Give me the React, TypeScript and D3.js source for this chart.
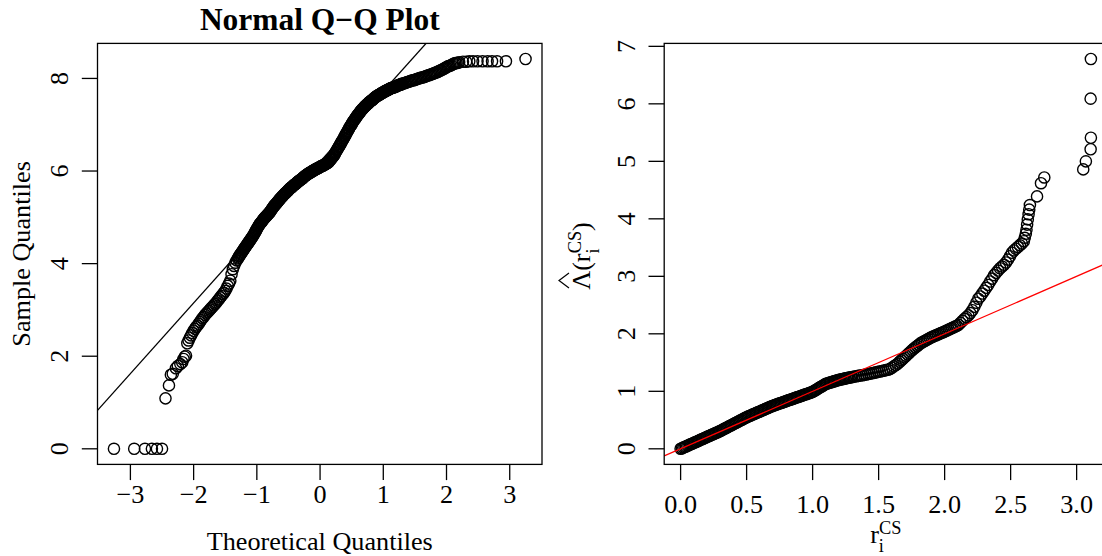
import React from "react";
import * as d3 from "d3";

type Pt = [number, number];

// ---------- Left panel: Normal Q-Q plot (theoretical quantile, sample quantile) ----------
const qqLowerTail: Pt[] = [
  [-3.26, 0], [-2.94, 0], [-2.77, 0], [-2.66, 0], [-2.58, 0], [-2.5, 0],
  [-2.445, 1.09], [-2.39, 1.37], [-2.36, 1.6], [-2.33, 1.62], [-2.28, 1.74], [-2.25, 1.79],
  [-2.21, 1.83], [-2.18, 1.87], [-2.16, 1.94], [-2.14, 1.99], [-2.12, 2.01], [-2.1, 2.28],
  [-2.08, 2.34], [-2.06, 2.4], [-2.04, 2.45], [-2.02, 2.5],
];

const qqRisingBand: Pt[] = [
  [-2.0, 2.55], [-1.98, 2.59], [-1.96, 2.63], [-1.94, 2.66], [-1.92, 2.7], [-1.9, 2.74],
  [-1.88, 2.78], [-1.86, 2.82], [-1.84, 2.85], [-1.82, 2.89], [-1.8, 2.92], [-1.78, 2.95],
  [-1.76, 2.98], [-1.74, 3.01], [-1.72, 3.04], [-1.7, 3.07], [-1.68, 3.1], [-1.66, 3.13],
  [-1.64, 3.16], [-1.62, 3.2], [-1.6, 3.23], [-1.58, 3.27], [-1.56, 3.3], [-1.54, 3.34],
  [-1.52, 3.37], [-1.5, 3.41], [-1.48, 3.46], [-1.46, 3.52], [-1.44, 3.57], [-1.42, 3.63],
  [-1.4, 3.77], [-1.38, 3.88], [-1.36, 3.95], [-1.34, 4.02], [-1.32, 4.07],
];

const qqCentralBand: Pt[] = [
  [-1.3, 4.11], [-1.29, 4.13], [-1.28, 4.16], [-1.27, 4.18], [-1.26, 4.2], [-1.25, 4.22],
  [-1.24, 4.24], [-1.23, 4.26], [-1.22, 4.28], [-1.21, 4.3], [-1.2, 4.32], [-1.19, 4.34],
  [-1.18, 4.36], [-1.17, 4.38], [-1.16, 4.4], [-1.15, 4.42], [-1.14, 4.44], [-1.13, 4.46],
  [-1.12, 4.48], [-1.11, 4.5], [-1.1, 4.52], [-1.09, 4.54], [-1.08, 4.56], [-1.07, 4.58],
  [-1.06, 4.6], [-1.05, 4.62], [-1.04, 4.65], [-1.03, 4.67], [-1.02, 4.7], [-1.01, 4.72],
  [-1.0, 4.75], [-0.99, 4.77], [-0.98, 4.8], [-0.97, 4.82], [-0.96, 4.84], [-0.95, 4.86],
  [-0.94, 4.88], [-0.93, 4.89], [-0.92, 4.91], [-0.91, 4.93], [-0.9, 4.95], [-0.89, 4.97],
  [-0.88, 4.98], [-0.87, 5.0], [-0.86, 5.01], [-0.85, 5.03], [-0.84, 5.04], [-0.83, 5.06],
  [-0.82, 5.07], [-0.81, 5.09], [-0.8, 5.1], [-0.79, 5.12], [-0.78, 5.14], [-0.77, 5.16],
  [-0.76, 5.18], [-0.75, 5.2], [-0.74, 5.22], [-0.73, 5.24], [-0.72, 5.26], [-0.71, 5.27],
  [-0.7, 5.29], [-0.69, 5.3], [-0.68, 5.32], [-0.67, 5.34], [-0.66, 5.35], [-0.65, 5.37],
  [-0.64, 5.39], [-0.63, 5.4], [-0.62, 5.42], [-0.61, 5.43], [-0.6, 5.45], [-0.59, 5.46],
  [-0.58, 5.48], [-0.57, 5.49], [-0.56, 5.51], [-0.55, 5.52], [-0.54, 5.53], [-0.53, 5.55],
  [-0.52, 5.56], [-0.51, 5.57], [-0.5, 5.59], [-0.49, 5.6], [-0.48, 5.62], [-0.47, 5.63],
  [-0.46, 5.64], [-0.45, 5.65], [-0.44, 5.66], [-0.43, 5.68], [-0.42, 5.69], [-0.41, 5.7],
  [-0.4, 5.71], [-0.39, 5.72], [-0.38, 5.73], [-0.37, 5.74], [-0.36, 5.76], [-0.35, 5.77],
  [-0.34, 5.78], [-0.33, 5.79], [-0.32, 5.8], [-0.31, 5.81], [-0.3, 5.82], [-0.29, 5.83],
  [-0.28, 5.84], [-0.27, 5.85], [-0.26, 5.87], [-0.25, 5.88], [-0.24, 5.89], [-0.23, 5.9],
  [-0.22, 5.91], [-0.21, 5.92], [-0.2, 5.93], [-0.19, 5.94], [-0.18, 5.95], [-0.17, 5.96],
  [-0.16, 5.96], [-0.15, 5.97], [-0.14, 5.98], [-0.13, 5.99], [-0.12, 6.0], [-0.11, 6.01],
  [-0.1, 6.01], [-0.09, 6.02], [-0.08, 6.03], [-0.07, 6.04], [-0.06, 6.05], [-0.05, 6.05],
  [-0.04, 6.06], [-0.03, 6.07], [-0.02, 6.07], [-0.01, 6.08], [0.0, 6.09], [0.01, 6.1],
  [0.02, 6.1], [0.03, 6.11], [0.04, 6.12], [0.05, 6.12], [0.06, 6.13], [0.07, 6.14],
  [0.08, 6.15], [0.09, 6.15], [0.1, 6.16], [0.11, 6.17], [0.12, 6.18], [0.13, 6.19],
  [0.14, 6.2], [0.15, 6.22], [0.16, 6.24], [0.17, 6.25], [0.18, 6.27], [0.19, 6.29],
  [0.2, 6.31], [0.21, 6.32], [0.22, 6.34], [0.23, 6.36], [0.24, 6.39], [0.25, 6.41],
  [0.26, 6.44], [0.27, 6.46], [0.28, 6.48], [0.29, 6.51], [0.3, 6.53], [0.31, 6.55],
  [0.32, 6.58], [0.33, 6.6], [0.34, 6.63], [0.35, 6.65], [0.36, 6.67], [0.37, 6.7],
  [0.38, 6.72], [0.39, 6.75], [0.4, 6.77], [0.41, 6.8], [0.42, 6.82], [0.43, 6.85],
  [0.44, 6.87], [0.45, 6.9], [0.46, 6.92], [0.47, 6.95], [0.48, 6.97], [0.49, 6.99],
  [0.5, 7.01], [0.51, 7.04], [0.52, 7.06], [0.53, 7.08], [0.54, 7.1], [0.55, 7.12],
  [0.56, 7.14], [0.57, 7.16], [0.58, 7.18], [0.59, 7.2], [0.6, 7.22], [0.61, 7.23],
  [0.62, 7.25], [0.63, 7.27], [0.64, 7.29], [0.65, 7.31], [0.66, 7.32], [0.67, 7.34],
  [0.68, 7.35], [0.69, 7.37], [0.7, 7.38], [0.71, 7.4], [0.72, 7.41], [0.73, 7.42],
  [0.74, 7.44], [0.75, 7.45], [0.76, 7.46], [0.77, 7.47], [0.78, 7.49], [0.79, 7.5],
  [0.8, 7.51], [0.81, 7.52], [0.82, 7.53], [0.83, 7.54], [0.84, 7.55], [0.85, 7.57],
  [0.86, 7.58], [0.87, 7.59], [0.88, 7.6], [0.89, 7.61], [0.9, 7.62], [0.91, 7.63],
  [0.92, 7.64], [0.93, 7.64], [0.94, 7.65], [0.95, 7.66], [0.96, 7.67], [0.97, 7.68],
  [0.98, 7.69], [0.99, 7.69], [1.0, 7.7], [1.01, 7.71], [1.02, 7.72], [1.03, 7.72],
  [1.04, 7.73], [1.05, 7.74], [1.06, 7.75], [1.07, 7.75], [1.08, 7.76], [1.09, 7.77],
  [1.1, 7.77], [1.11, 7.78], [1.12, 7.79], [1.13, 7.79], [1.14, 7.8], [1.15, 7.8],
  [1.16, 7.81], [1.17, 7.81], [1.18, 7.82], [1.19, 7.82], [1.2, 7.83], [1.21, 7.83],
  [1.22, 7.84], [1.23, 7.85], [1.24, 7.85], [1.25, 7.86], [1.26, 7.86], [1.27, 7.87],
  [1.28, 7.87], [1.29, 7.88],
];

const qqUpperBand: Pt[] = [
  [1.3, 7.89], [1.32, 7.89], [1.34, 7.9], [1.36, 7.91], [1.38, 7.92], [1.4, 7.93],
  [1.42, 7.94], [1.44, 7.95], [1.46, 7.96], [1.48, 7.96], [1.5, 7.97], [1.52, 7.98],
  [1.54, 7.99], [1.56, 8.0], [1.58, 8.01], [1.6, 8.02], [1.62, 8.02], [1.64, 8.03],
  [1.66, 8.04], [1.68, 8.05], [1.7, 8.06], [1.72, 8.07], [1.74, 8.08], [1.76, 8.09],
  [1.78, 8.1], [1.8, 8.11], [1.82, 8.12], [1.84, 8.13], [1.86, 8.14], [1.88, 8.16],
  [1.9, 8.17], [1.92, 8.18], [1.94, 8.2], [1.96, 8.21], [1.98, 8.23], [2.0, 8.24],
  [2.02, 8.26], [2.04, 8.27], [2.06, 8.28], [2.08, 8.29], [2.1, 8.31], [2.12, 8.32],
  [2.14, 8.33], [2.16, 8.33], [2.18, 8.34], [2.2, 8.35],
];

const qqUpperTail: Pt[] = [
  [2.26, 8.36], [2.31, 8.36], [2.36, 8.37], [2.42, 8.37], [2.49, 8.37], [2.57, 8.37],
  [2.65, 8.37], [2.72, 8.37], [2.8, 8.37], [2.94, 8.37], [3.25, 8.42],
];

// Reference line through the quartiles
const qqLineIntercept = 6.2;
const qqLineSlope = 1.525;

const qqXTicks = [-3, -2, -1, 0, 1, 2, 3];
const qqYTicks = [0, 2, 4, 6, 8];

// ---------- Right panel: Cox-Snell residuals vs. estimated cumulative hazard ----------
const csLowBand: Pt[] = [
  [0.0, 0.0], [0.01, 0.01], [0.02, 0.021], [0.03, 0.031], [0.04, 0.041], [0.05, 0.052],
  [0.06, 0.062], [0.07, 0.072], [0.08, 0.083], [0.09, 0.093], [0.1, 0.103], [0.11, 0.114],
  [0.12, 0.124], [0.13, 0.134], [0.14, 0.145], [0.15, 0.155], [0.16, 0.165], [0.17, 0.176],
  [0.18, 0.186], [0.19, 0.196], [0.2, 0.207], [0.21, 0.217], [0.22, 0.227], [0.23, 0.238],
  [0.24, 0.248], [0.25, 0.258], [0.26, 0.269], [0.27, 0.279], [0.28, 0.289], [0.29, 0.3],
  [0.3, 0.31], [0.31, 0.322], [0.32, 0.334], [0.33, 0.346], [0.34, 0.358], [0.35, 0.37],
  [0.36, 0.382], [0.37, 0.394], [0.38, 0.406], [0.39, 0.418], [0.4, 0.43], [0.41, 0.442],
  [0.42, 0.454], [0.43, 0.466], [0.44, 0.478], [0.45, 0.49], [0.46, 0.502], [0.47, 0.514],
  [0.48, 0.526], [0.49, 0.538], [0.5, 0.55], [0.51, 0.56], [0.52, 0.57], [0.53, 0.58],
  [0.54, 0.59], [0.55, 0.6], [0.56, 0.61], [0.57, 0.62], [0.58, 0.63], [0.59, 0.64],
  [0.6, 0.65], [0.61, 0.66], [0.62, 0.67], [0.63, 0.68], [0.64, 0.69], [0.65, 0.7],
  [0.66, 0.71], [0.67, 0.72], [0.68, 0.73], [0.69, 0.74], [0.7, 0.75], [0.71, 0.758],
  [0.72, 0.766], [0.73, 0.774], [0.74, 0.782], [0.75, 0.79], [0.76, 0.798], [0.77, 0.806],
  [0.78, 0.814], [0.79, 0.822], [0.8, 0.83], [0.81, 0.838], [0.82, 0.846], [0.83, 0.854],
  [0.84, 0.862], [0.85, 0.87], [0.86, 0.878], [0.87, 0.886], [0.88, 0.894], [0.89, 0.902],
  [0.9, 0.91], [0.91, 0.918], [0.92, 0.926], [0.93, 0.934], [0.94, 0.942], [0.95, 0.95],
  [0.96, 0.958], [0.97, 0.966], [0.98, 0.974], [0.99, 0.982], [1.0, 0.99], [1.01, 1.004],
  [1.02, 1.018], [1.03, 1.032], [1.04, 1.046], [1.05, 1.06], [1.06, 1.074], [1.07, 1.088],
  [1.08, 1.102], [1.09, 1.116], [1.1, 1.13], [1.11, 1.137], [1.12, 1.144], [1.13, 1.151],
  [1.14, 1.158], [1.15, 1.165], [1.16, 1.172], [1.17, 1.179], [1.18, 1.186], [1.19, 1.193],
  [1.2, 1.2], [1.21, 1.205], [1.22, 1.21], [1.23, 1.215], [1.24, 1.22], [1.25, 1.225],
  [1.26, 1.23], [1.27, 1.235], [1.28, 1.24], [1.29, 1.245], [1.3, 1.25],
];

const csMidBand: Pt[] = [
  [1.315, 1.256], [1.33, 1.262], [1.345, 1.268], [1.36, 1.274], [1.375, 1.28], [1.39, 1.286],
  [1.405, 1.293], [1.42, 1.3], [1.435, 1.308], [1.45, 1.315], [1.465, 1.323], [1.48, 1.33],
  [1.495, 1.338], [1.51, 1.345], [1.525, 1.353], [1.54, 1.36], [1.555, 1.368], [1.57, 1.375],
  [1.585, 1.388], [1.6, 1.41], [1.615, 1.433], [1.63, 1.455], [1.645, 1.481], [1.66, 1.513],
];

const csKneeBand: Pt[] = [
  [1.672, 1.539], [1.684, 1.565], [1.696, 1.591], [1.708, 1.617], [1.72, 1.643], [1.732, 1.669],
  [1.744, 1.695], [1.756, 1.721], [1.768, 1.745], [1.78, 1.767], [1.792, 1.789], [1.804, 1.811],
  [1.816, 1.833], [1.828, 1.85], [1.84, 1.865], [1.852, 1.88], [1.864, 1.895], [1.876, 1.91],
  [1.888, 1.925], [1.9, 1.94], [1.912, 1.952], [1.924, 1.964], [1.936, 1.976], [1.948, 1.988],
  [1.96, 2.0], [1.972, 2.012], [1.984, 2.024], [1.996, 2.036], [2.008, 2.049], [2.02, 2.062],
  [2.032, 2.075], [2.044, 2.088], [2.056, 2.101], [2.068, 2.114], [2.08, 2.128], [2.092, 2.141],
];

const csUpperChain: Pt[] = [
  [2.105, 2.155], [2.12, 2.19], [2.135, 2.225], [2.15, 2.26], [2.165, 2.29], [2.18, 2.32],
  [2.195, 2.36], [2.21, 2.41], [2.225, 2.47], [2.24, 2.54], [2.255, 2.61], [2.27, 2.65],
  [2.285, 2.7], [2.3, 2.75], [2.315, 2.8], [2.33, 2.85], [2.345, 2.91], [2.36, 2.96],
  [2.375, 3.02], [2.39, 3.06], [2.405, 3.1], [2.42, 3.14], [2.435, 3.17], [2.45, 3.2],
  [2.465, 3.24], [2.48, 3.29], [2.495, 3.35], [2.51, 3.41], [2.525, 3.45], [2.54, 3.48],
  [2.555, 3.51], [2.57, 3.54], [2.585, 3.57], [2.6, 3.61],
];

const csTail: Pt[] = [
  [2.607, 3.67], [2.615, 3.74], [2.62, 3.81], [2.625, 3.9], [2.63, 3.99], [2.636, 4.08],
  [2.641, 4.16], [2.646, 4.24], [2.7, 4.39], [2.73, 4.62], [2.755, 4.72],
  [3.05, 4.86], [3.07, 5.0], [3.106, 5.21], [3.108, 5.41], [3.106, 6.09], [3.108, 6.78],
];

// Identity reference line
const csLineIntercept = 0;
const csLineSlope = 1;

const csXTicks = [0, 0.5, 1, 1.5, 2, 2.5, 3];
const csYTicks = [0, 1, 2, 3, 4, 5, 6, 7];

// ---------- Layout ----------
const W = 1102;
const H = 556;
const FONT = "'Liberation Serif', 'Times New Roman', Times, serif";
const BASE = 26.2;
const LWD = 1.3;
const PCH_LWD = 1.4;
const PCH_R = 5.6;
const TICK = 15.7;

const leftBox = { left: 97.5, right: 542, top: 43.4, bottom: 464.4 };
const rightBox = { left: 664.2, right: 1107.3, top: 43.4, bottom: 464.4 };

// R-style axis range: data range padded by 4% on each side
function paddedExtent(values: number[]): [number, number] {
  const [lo, hi] = d3.extent(values) as [number, number];
  const pad = (hi - lo) * 0.04;
  return [lo - pad, hi + pad];
}

const minus = (v: number) => (v < 0 ? "\u2212" + Math.abs(v) : String(v));

type Box = typeof leftBox;

function Panel({
  id, box, points, xTicks, yTicks, xFmt, yFmt, intercept, slope, lineColor, xLabelBaseline,
}: {
  id: string; box: Box; points: Pt[]; xTicks: number[]; yTicks: number[];
  xFmt: (v: number) => string; yFmt: (v: number) => string;
  intercept: number; slope: number; lineColor: string; xLabelBaseline: number;
}) {
  const x = d3.scaleLinear().domain(paddedExtent(points.map((p) => p[0]))).range([box.left, box.right]);
  const y = d3.scaleLinear().domain(paddedExtent(points.map((p) => p[1]))).range([box.bottom, box.top]);
  const [x0, x1] = x.domain();
  const line = d3.line<number>().x((v) => x(v)).y((v) => y(intercept + slope * v));
  const yLabelBaseline = box.left - 29.5;
  return (
    <g>
      <defs>
        <clipPath id={id}>
          <rect x={box.left} y={box.top} width={box.right - box.left} height={box.bottom - box.top} />
        </clipPath>
      </defs>
      <g fill="none" stroke="#000" strokeWidth={PCH_LWD}>
        {points.map((p, i) => (
          <circle key={i} cx={x(p[0])} cy={y(p[1])} r={PCH_R} />
        ))}
      </g>
      <path d={line([x0, x1]) ?? ""} stroke={lineColor} strokeWidth={LWD} fill="none" clipPath={`url(#${id})`} />
      <rect x={box.left} y={box.top} width={box.right - box.left} height={box.bottom - box.top}
        fill="none" stroke="#000" strokeWidth={LWD} />
      <g stroke="#000" strokeWidth={LWD}>
        {xTicks.map((t) => (
          <line key={t} x1={x(t)} x2={x(t)} y1={box.bottom} y2={box.bottom + TICK} />
        ))}
        {yTicks.map((t) => (
          <line key={t} y1={y(t)} y2={y(t)} x1={box.left} x2={box.left - TICK} />
        ))}
      </g>
      <g fontFamily={FONT} fontSize={BASE} fill="#000" textAnchor="middle">
        {xTicks.map((t) => (
          <text key={t} x={x(t)} y={xLabelBaseline}>{xFmt(t)}</text>
        ))}
        {yTicks.map((t) => (
          <text key={t} transform={`translate(${yLabelBaseline},${y(t)}) rotate(-90)`}>{yFmt(t)}</text>
        ))}
      </g>
    </g>
  );
}

export default function App() {
  const qqPoints = [...qqLowerTail, ...qqRisingBand, ...qqCentralBand, ...qqUpperBand, ...qqUpperTail];
  const csPoints = [...csLowBand, ...csMidBand, ...csKneeBand, ...csUpperChain, ...csTail];
  const leftMid = (leftBox.left + leftBox.right) / 2;
  const rightMid = (rightBox.left + rightBox.right) / 2;
  const plotMidY = (leftBox.top + leftBox.bottom) / 2;
  const script = BASE * 0.7;
  return (
    <svg width={W} height={H} viewBox={`0 0 ${W} ${H}`}
      style={{ position: "absolute", left: 0, top: 0, background: "#fff" }}>
      <rect width={W} height={H} fill="#fff" />
      <Panel id="qq-clip" box={leftBox} points={qqPoints} xTicks={qqXTicks} yTicks={qqYTicks}
        xFmt={minus} yFmt={(v) => String(v)} intercept={qqLineIntercept} slope={qqLineSlope}
        lineColor="#000" xLabelBaseline={502.5} />
      <Panel id="cs-clip" box={rightBox} points={csPoints} xTicks={csXTicks} yTicks={csYTicks}
        xFmt={(v) => d3.format(".1f")(v)} yFmt={(v) => String(v)} intercept={csLineIntercept}
        slope={csLineSlope} lineColor="#ff0000" xLabelBaseline={512.5} />

      <g fontFamily={FONT} fill="#000" textAnchor="middle">
        <text x={leftMid} y={29.5} fontSize={BASE * 1.2} fontWeight="bold">Normal Q{"\u2212"}Q Plot</text>
        <text x={leftMid} y={549.5} fontSize={BASE}>Theoretical Quantiles</text>
        <text transform={`translate(29.5,${plotMidY}) rotate(-90)`} fontSize={BASE}>Sample Quantiles</text>

        <text x={rightMid} y={543} fontSize={BASE}>
          r<tspan fontSize={script} dy={9}>i</tspan>
          <tspan fontSize={script} dx={-5} dy={-18}>CS</tspan>
        </text>

        <g transform={`translate(590,256) rotate(-90)`}>
          <text x={0} y={0} fontSize={BASE}>
            {"\u039B"}({"r"}
            <tspan fontSize={script} dy={9}>i</tspan>
            <tspan fontSize={script} dx={-5} dy={-18}>CS</tspan>
            <tspan dy={9}>)</tspan>
          </text>
          <path d="M -32 -21 L -24.5 -31 L -17 -21" fill="none" stroke="#000" strokeWidth={1.2} />
        </g>
      </g>
    </svg>
  );
}
